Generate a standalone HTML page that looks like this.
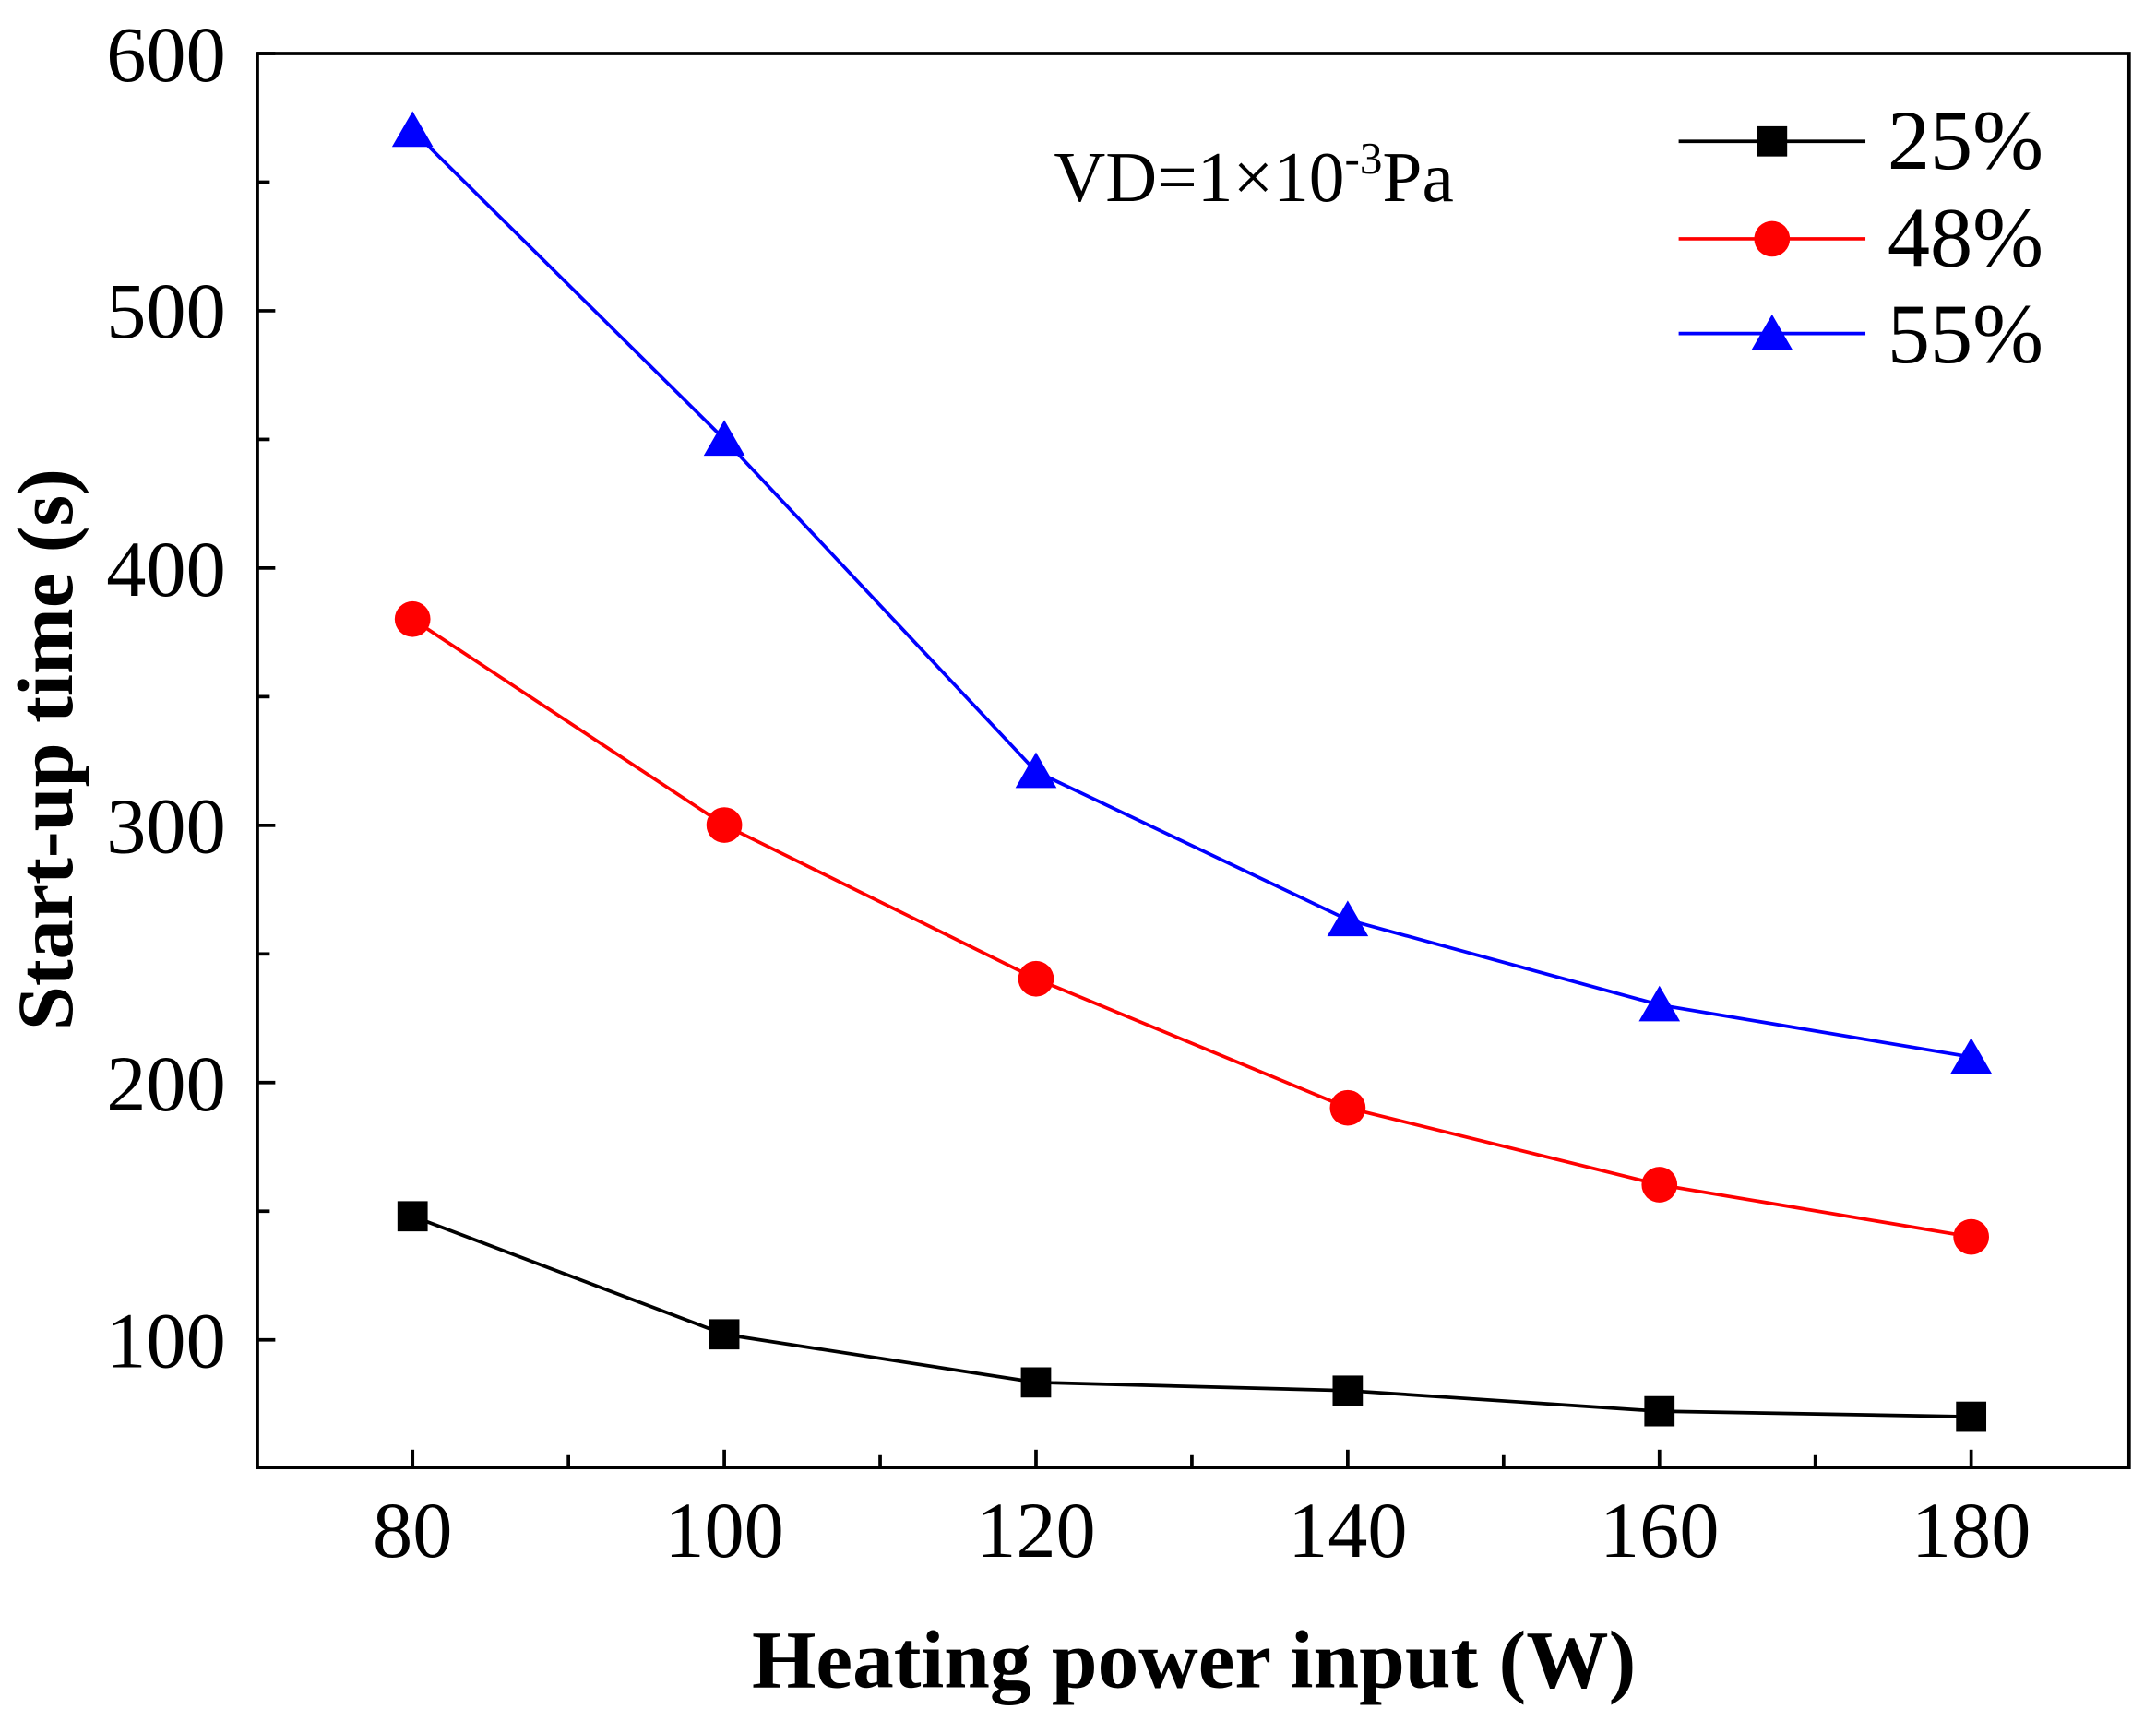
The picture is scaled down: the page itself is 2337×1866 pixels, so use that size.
<!DOCTYPE html>
<html><head><meta charset="utf-8"><style>html,body{margin:0;padding:0;background:#fff}svg{display:block}</style></head>
<body>
<svg width="2337" height="1866" viewBox="0 0 2337 1866" xmlns="http://www.w3.org/2000/svg" font-family="Liberation Serif, serif">
<rect width="2337" height="1866" fill="#fff"/>
<g transform="translate(0.65,1.44) scale(1.4885)">
<rect x="187" y="38" width="1363" height="1030" fill="none" stroke="#000" stroke-width="2.5"/>
<g stroke="#000" stroke-width="2.5">
<line x1="187" y1="38" x2="200" y2="38"/><line x1="187" y1="131.7" x2="196" y2="131.7"/>
<line x1="187" y1="225.4" x2="200" y2="225.4"/><line x1="187" y1="319.1" x2="196" y2="319.1"/>
<line x1="187" y1="412.8" x2="200" y2="412.8"/><line x1="187" y1="506.5" x2="196" y2="506.5"/>
<line x1="187" y1="600.2" x2="200" y2="600.2"/><line x1="187" y1="693.9" x2="196" y2="693.9"/>
<line x1="187" y1="787.6" x2="200" y2="787.6"/><line x1="187" y1="881.3" x2="196" y2="881.3"/>
<line x1="187" y1="975" x2="200" y2="975"/>
<line x1="300" y1="1068" x2="300" y2="1055"/><line x1="413.5" y1="1068" x2="413.5" y2="1059"/>
<line x1="527" y1="1068" x2="527" y2="1055"/><line x1="640.5" y1="1068" x2="640.5" y2="1059"/>
<line x1="754" y1="1068" x2="754" y2="1055"/><line x1="867.5" y1="1068" x2="867.5" y2="1059"/>
<line x1="981" y1="1068" x2="981" y2="1055"/><line x1="1094.5" y1="1068" x2="1094.5" y2="1059"/>
<line x1="1208" y1="1068" x2="1208" y2="1055"/><line x1="1321.5" y1="1068" x2="1321.5" y2="1059"/>
<line x1="1435" y1="1068" x2="1435" y2="1055"/>
</g>
<g font-size="58" text-anchor="end">
<text x="164" y="58">600</text><text x="164" y="245">500</text><text x="164" y="433">400</text>
<text x="164" y="620">300</text><text x="164" y="808">200</text><text x="164" y="995">100</text>
</g>
<g font-size="58" text-anchor="middle">
<text x="300" y="1133">80</text><text x="527" y="1133">100</text><text x="754" y="1133">120</text>
<text x="981" y="1133">140</text><text x="1208" y="1133">160</text><text x="1435" y="1133">180</text>
</g>
<text x="869" y="1228" font-size="60" font-weight="bold" text-anchor="middle">Heating power input (W)</text>
<text transform="translate(52,545) rotate(-90)" font-size="58" font-weight="bold" text-anchor="middle">Start-up time (s)</text>
<text x="767" y="145.5" font-size="52">VD=1×10<tspan font-size="33" dy="-20">-3</tspan><tspan dy="20">Pa</tspan></text>
<polyline fill="none" stroke="#000" stroke-width="2.5" points="300,885 527,971 754,1006 981,1012 1208,1027 1435,1031"/>
<polyline fill="none" stroke="#f00" stroke-width="2.5" points="300,450 527,600 754,712 981,806 1208,862 1435,900"/>
<polyline fill="none" stroke="#00f" stroke-width="2.5" points="300,94 527,319 754,561 981,669 1208,731 1435,769"/>
<g fill="#000">
<rect x="289" y="874" width="22" height="22"/><rect x="516" y="960" width="22" height="22"/><rect x="743" y="995" width="22" height="22"/>
<rect x="970" y="1001" width="22" height="22"/><rect x="1197" y="1016" width="22" height="22"/><rect x="1424" y="1020" width="22" height="22"/>
</g>
<g fill="#f00">
<circle cx="300" cy="450" r="13"/><circle cx="527" cy="600" r="13"/><circle cx="754" cy="712" r="13"/>
<circle cx="981" cy="806" r="13"/><circle cx="1208" cy="862" r="13"/><circle cx="1435" cy="900" r="13"/>
</g>
<g fill="#00f">
<polygon points="300,80 315,106 285,106"/><polygon points="527,305 542,331 512,331"/><polygon points="754,547 769,573 739,573"/>
<polygon points="981,655 996,681 966,681"/><polygon points="1208,717 1223,743 1193,743"/><polygon points="1435,755 1450,781 1420,781"/>
</g>
<line x1="1222" y1="102" x2="1358" y2="102" stroke="#000" stroke-width="2.5"/>
<rect x="1279" y="91" width="22" height="22" fill="#000"/>
<line x1="1222" y1="173" x2="1358" y2="173" stroke="#f00" stroke-width="2.5"/>
<circle cx="1290" cy="173" r="13" fill="#f00"/>
<line x1="1222" y1="242" x2="1358" y2="242" stroke="#00f" stroke-width="2.5"/>
<polygon points="1290,228 1305,254 1275,254" fill="#00f"/>
<g font-size="62">
<text x="1374" y="122">25%</text><text x="1374" y="193">48%</text><text x="1374" y="263">55%</text>
</g>
</g>
</svg>
</body></html>
